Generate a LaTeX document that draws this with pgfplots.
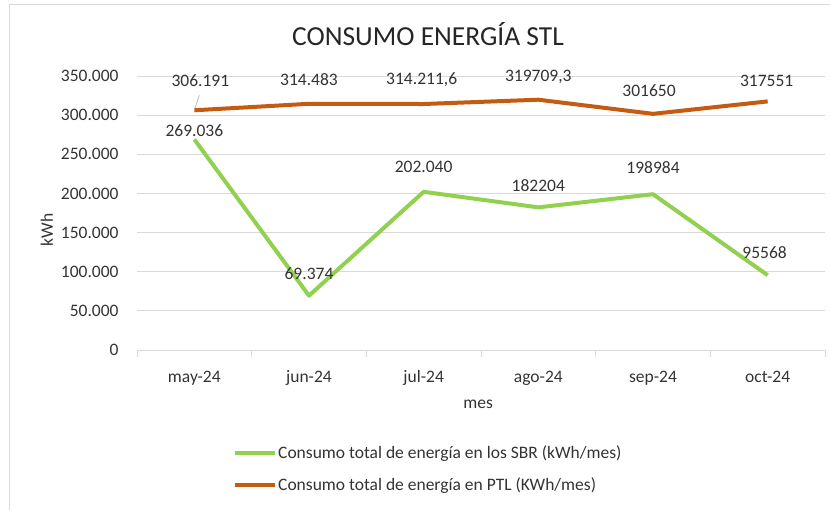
\documentclass[border=0pt]{standalone}
\usepackage{pgfplots}
\pgfplotsset{compat=1.18}
\usepackage{pgfplotstable}
\usepackage{fontspec}
\setmainfont{Carlito}
\definecolor{sbr}{HTML}{92D050}
\definecolor{ptl}{HTML}{C55A11}
\definecolor{gridc}{HTML}{D9D9D9}

% x, valor, etiqueta, desplazamiento de la etiqueta (pt)
\pgfplotstableread{
x y lab dx dy
0 269036 269.036 0 9
1 69374 69.374 0 22
2 202040 202.040 0 25
3 182204 182204 0 22
4 198984 198984 0 27
5 95568 95568 -3 23
}\sbrdata
\pgfplotstableread{
x y lab dx dy
0 306191 306.191 6 30
1 314483 314.483 0 24
2 314211.6 314.211,6 -2 24
3 319709.3 319709,3 0 23
4 301650 301650 -4 23
5 317551 317551 -1 21
}\ptldata

\begin{document}
\begin{tikzpicture}[x=1pt,y=1pt]
\useasboundingbox (0,0) rectangle (830,510);
\draw[gridc] (9,0) -- (9,505.5) -- (830,505.5);
\begin{axis}[
  at={(137pt,160pt)}, anchor=south west,
  scale only axis, width=688pt, height=274pt,
  xmin=-0.5, xmax=5.5, ymin=0, ymax=350000,
  axis x line*=bottom, axis y line*=left,
  x axis line style={draw=gridc, line width=0.8pt},
  y axis line style={draw=none},
  xtick={0,...,5},
  xticklabels={may-24,jun-24,jul-24,ago-24,sep-24,oct-24},
  major x tick style={draw=none},
  minor xtick={-0.5,0.5,1.5,2.5,3.5,4.5,5.5},
  minor x tick style={draw=gridc, line width=0.8pt},
  minor tick length=7pt, tick align=outside,
  ytick={0,50000,...,350000},
  ytick style={draw=none},
  ymajorgrids, grid style={gridc, line width=0.8pt},
  scaled y ticks=false,
  yticklabel style={/pgf/number format/fixed, /pgf/number format/1000 sep={.},
    /pgf/number format/assume math mode=true, font=\fontsize{17.5}{20}\selectfont,
    anchor=east, inner sep=0pt, xshift=-14pt, text=black!80},
  xticklabel style={font=\fontsize{17.5}{20}\selectfont, anchor=base, inner sep=0pt,
    yshift=-28pt, text=black!80},
  title={CONSUMO ENERGÍA STL},
  title style={at={(axis description cs:0.423,1.132)}, anchor=center,
    font=\fontsize{27.5}{30}\selectfont, text=black!85},
  xlabel={mes},
  xlabel style={at={(axis description cs:0.496,-0.20)}, anchor=center,
    font=\fontsize{17.5}{20}\selectfont, text=black!80},
  ylabel={kWh},
  ylabel style={at={(axis description cs:-0.131,0.438)}, anchor=center, rotate=0,
    font=\fontsize{17.5}{20}\selectfont, text=black!80},
  clip=false,
  legend style={at={(axis description cs:0.1395,-0.345)}, anchor=north west,
    draw=none, fill=none, inner sep=0pt, row sep=16pt,
    font=\fontsize{17.5}{20}\selectfont, text=black!80,
    nodes={inner sep=1pt}},
  legend cell align=left,
  legend image code/.code={\draw[#1] (0pt,0pt) -- (40pt,0pt);},
  nodes near coords,
  point meta=explicit symbolic,
  visualization depends on={\thisrow{dx} \as \dx},
  visualization depends on={\thisrow{dy} \as \dy},
  every node near coord/.style={anchor=center, xshift=\dx pt, yshift=\dy pt,
    font=\fontsize{17.5}{20}\selectfont, text=black!80, inner sep=0pt},
]
\addplot[sbr, line width=4pt, line join=round] table[x=x, y=y, meta=lab] {\sbrdata};
\addlegendentry{Consumo total de energía en los SBR (kWh/mes)}
\addplot[ptl, line width=4pt, line join=round] table[x=x, y=y, meta=lab] {\ptldata};
\addlegendentry{Consumo total de energía en PTL (KWh/mes)}
\draw[gray!70, line width=0.6pt] (axis cs:0,306191) -- ++(5pt,15pt);
\end{axis}
\end{tikzpicture}
\end{document}
